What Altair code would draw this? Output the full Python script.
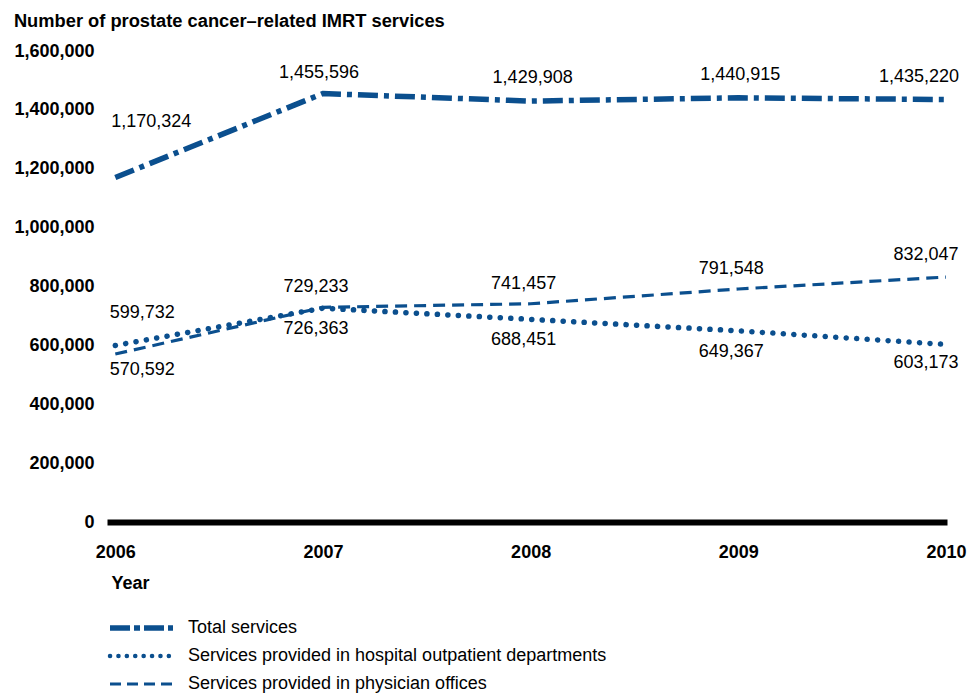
import altair as alt
import pandas as pd

# ---- data ----
years = [2006, 2007, 2008, 2009, 2010]
total_services = [1170324, 1455596, 1429908, 1440915, 1435220]
hospital_services = [599732, 726363, 688451, 649367, 603173]
physician_services = [570592, 729233, 741457, 791548, 832047]
series_names = [
    "Total services",
    "Services provided in hospital outpatient departments",
    "Services provided in physician offices",
]
y_ticks = [0, 200000, 400000, 600000, 800000, 1000000, 1200000, 1400000, 1600000]
title_text = "Number of prostate cancer\u2013related IMRT services"
x_title = "Year"

rows = []
for name, vals in zip(series_names, [total_services, hospital_services, physician_services]):
    for yr, v in zip(years, vals):
        rows.append({"year": yr, "series": name, "value": v})
df = pd.DataFrame(rows)
leg_df = pd.DataFrame({"series": series_names})

BLUE = "#0b4f8e"
FONT = "Liberation Sans"
FS = 18

styles = {
    series_names[0]: dict(strokeWidth=5.5, strokeDash=[20, 6, 5, 6], strokeCap="butt"),
    series_names[1]: dict(strokeWidth=5.5, strokeDash=[0.1, 10.4], strokeCap="round"),
    series_names[2]: dict(strokeWidth=3.2, strokeDash=[12, 7], strokeCap="butt"),
}
leg_styles = {
    series_names[0]: dict(strokeWidth=5.5, strokeDash=[20, 4, 6, 4], strokeCap="butt"),
    series_names[1]: dict(strokeWidth=4.5, strokeDash=[0.1, 8.3], strokeCap="round"),
    series_names[2]: dict(strokeWidth=3.2, strokeDash=[11, 6], strokeCap="butt"),
}

x_enc = alt.X(
    "year:Q",
    scale=alt.Scale(domain=[2005.96, 2010.005], nice=False, zero=False),
    axis=alt.Axis(
        values=years, format="d", title=x_title,
        labelFontSize=FS, labelFontWeight="bold", labelColor="black", labelFont=FONT,
        labelPadding=21, labelFlush=False, ticks=False, tickSize=0,
        domainColor="black", domainWidth=6, grid=False,
        titleFontSize=FS, titleFontWeight="bold", titleColor="black", titleFont=FONT,
        titleAnchor="start", titleAlign="left", titleX=4, titleY=61, titleBaseline="middle",
    ),
)
y_enc = alt.Y(
    "value:Q",
    scale=alt.Scale(domain=[0, 1600000], nice=False),
    axis=alt.Axis(
        values=y_ticks, format=",d", title=None,
        labelFontSize=FS, labelFontWeight="bold", labelColor="black", labelFont=FONT,
        labelPadding=13, ticks=False, tickSize=0, domain=False, grid=False,
    ),
)

base = alt.Chart(df)

layers = []
for name in series_names:
    layers.append(
        base.transform_filter(alt.datum.series == name)
        .mark_line(color=BLUE, **styles[name])
        .encode(x=x_enc, y=y_enc)
    )


def labels(name, yrs, dx, dy):
    return (
        base.transform_filter(alt.datum.series == name)
        .transform_filter(alt.FieldOneOfPredicate(field="year", oneOf=yrs))
        .mark_text(font=FONT, fontSize=FS, color="black", align="center",
                   baseline="middle", dx=dx, dy=dy)
        .encode(x=x_enc, y=y_enc, text=alt.Text("value:Q", format=",d"))
    )


T, H, P = series_names
layers += [
    labels(T, [2006], 36, -55),
    labels(T, [2007], -4, -21),
    labels(T, [2008, 2009], 2, -23),
    labels(T, [2010], -27, -23),
    labels(P, [2006], 27, 16),
    labels(P, [2007, 2008, 2009], -7, -20),
    labels(P, [2010], -20, -22),
    labels(H, [2006], 27, -32),
    labels(H, [2007, 2008, 2009], -7, 21),
    labels(H, [2010], -20, 19),
]

main = alt.layer(*layers).properties(
    width=840,
    height=471,
    title=alt.TitleParams(
        title_text, anchor="start", fontSize=18.3, fontWeight="bold",
        font=FONT, color="black", offset=11,
    ),
)

y_leg = alt.Y("series:N", scale=alt.Scale(type="point", domain=series_names, padding=0),
              axis=None)
leg_base = alt.Chart(leg_df)
leg_layers = []
for name in series_names:
    leg_layers.append(
        leg_base.transform_filter(alt.datum.series == name)
        .mark_rule(color=BLUE, **leg_styles[name])
        .encode(y=y_leg, x=alt.value(3), x2=alt.value(66))
    )
leg_layers.append(
    leg_base.mark_text(font=FONT, fontSize=FS, color="black", align="left", baseline="middle")
    .encode(y=y_leg, x=alt.value(81), text="series:N")
)
legend = alt.layer(*leg_layers).properties(width=65, height=56)

chart = (
    alt.vconcat(main, legend, spacing=106, bounds="flush")
    .properties(padding={"left": 5, "top": 3, "right": 5, "bottom": 0})
    .configure(font=FONT)
    .configure_view(strokeWidth=0, stroke="transparent")
)

chart.save("out.html", embed_options={"renderer": "svg", "actions": False})
